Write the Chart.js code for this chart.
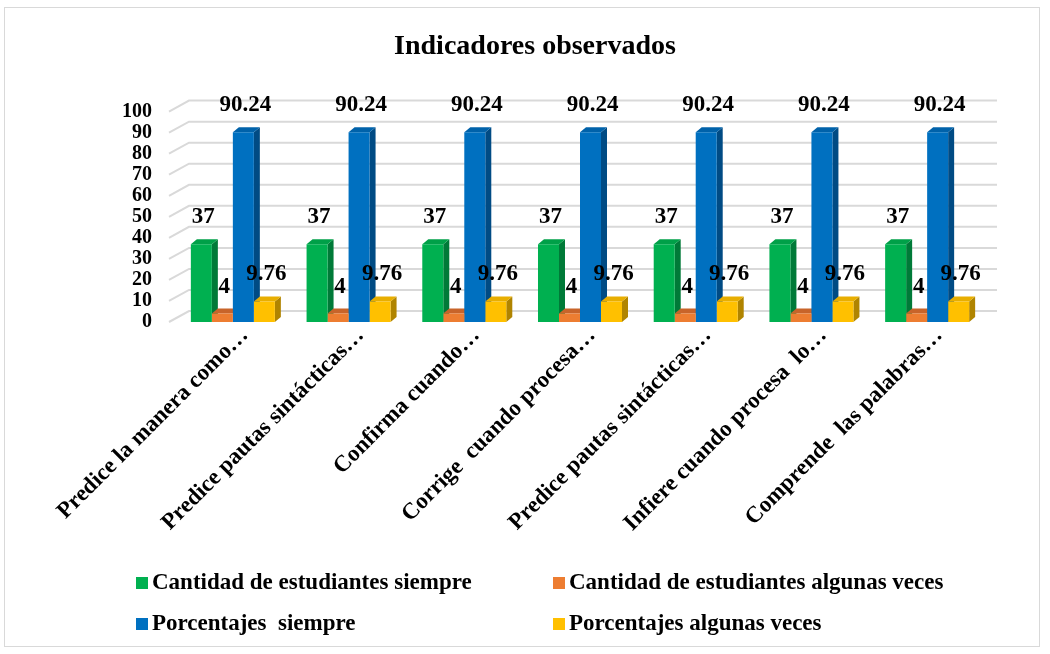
<!DOCTYPE html>
<html>
<head>
<meta charset="utf-8">
<script src="https://cdn.jsdelivr.net/npm/chart.js@4/dist/chart.umd.min.js"></script>
<style>
  body { margin: 0; background: #fff; }
  #wrap { position: relative; width: 1050px; height: 654px; }
  #frame { position: absolute; left: 4px; top: 7px; width: 1036px; height: 640px; border: 1.5px solid #d9d9d9; box-sizing: border-box; }
  canvas { position: absolute; left: 0; top: 0; }
</style>
</head>
<body>
<div id="wrap">
  <div id="frame"></div>
  <canvas id="chart" width="1050" height="654"></canvas>
</div>
<script>
var categories = [
  'Predice la manera como…',
  'Predice pautas sintácticas…',
  'Confirma cuando…',
  'Corrige  cuando procesa…',
  'Predice pautas sintácticas…',
  'Infiere cuando procesa  lo…',
  'Comprende  las palabras…'
];
var seriesNames = [
  'Cantidad de estudiantes siempre',
  'Cantidad de estudiantes algunas veces',
  'Porcentajes  siempre',
  'Porcentajes algunas veces'
];
var siempre = [37, 37, 37, 37, 37, 37, 37];
var algunasVeces = [4, 4, 4, 4, 4, 4, 4];
var pctSiempre = [90.24, 90.24, 90.24, 90.24, 90.24, 90.24, 90.24];
var pctAlgunas = [9.76, 9.76, 9.76, 9.76, 9.76, 9.76, 9.76];

var fronts = ['#00B050', '#ED7D31', '#0070C0', '#FFC000'];
var sides = ['#007A38', '#A9561F', '#004B84', '#B08400'];
var tops = ['#00A048', '#C8642A', '#0062AA', '#E8AE00'];

var SERIF = "'Liberation Serif', 'Times New Roman', serif";
var DX = 6, DY = -5;          // bar depth
var WALL_DX = 20, WALL_DY = -11;  // back wall offset

// fake 3d: sides/tops behind the fronts, gridlines on the back wall
var depth3d = {
  id: 'depth3d',
  beforeDatasetsDraw: function(chart) {
    var ctx = chart.ctx, area = chart.chartArea, y = chart.scales.y;
    ctx.save();
    ctx.strokeStyle = '#d9d9d9';
    ctx.lineWidth = 2;
    y.ticks.forEach(function(t) {
      var py = y.getPixelForValue(t.value);
      ctx.beginPath();
      ctx.moveTo(area.left - 6, py);
      ctx.lineTo(area.left - 6 + WALL_DX, py + WALL_DY);
      ctx.lineTo(area.right + 12, py + WALL_DY);
      ctx.stroke();
    });
    chart.data.datasets.forEach(function(ds, i) {
      chart.getDatasetMeta(i).data.forEach(function(bar) {
        var l = bar.x - bar.width / 2, r = bar.x + bar.width / 2;
        var t = bar.y, b = bar.base;
        ctx.fillStyle = sides[i];
        ctx.beginPath();
        ctx.moveTo(r, b); ctx.lineTo(r + DX, b + DY);
        ctx.lineTo(r + DX, t + DY); ctx.lineTo(r, t);
        ctx.closePath(); ctx.fill();
        ctx.fillStyle = tops[i];
        ctx.beginPath();
        ctx.moveTo(l, t); ctx.lineTo(l + DX, t + DY);
        ctx.lineTo(r + DX, t + DY); ctx.lineTo(r, t);
        ctx.closePath(); ctx.fill();
      });
    });
    ctx.restore();
  },
  afterDatasetsDraw: function(chart) {
    var ctx = chart.ctx;
    ctx.save();
    ctx.font = 'bold 23px ' + SERIF;
    ctx.fillStyle = '#000';
    ctx.textAlign = 'center';
    ctx.textBaseline = 'middle';
    chart.data.datasets.forEach(function(ds, i) {
      chart.getDatasetMeta(i).data.forEach(function(bar, j) {
        ctx.fillText(String(ds.data[j]), bar.x + 2, bar.y - 27);
      });
    });
    ctx.restore();
  },
  // two-column legend like the original
  afterDraw: function(chart) {
    var ctx = chart.ctx;
    var pos = [[136, 583], [553, 583], [136, 624], [553, 624]];
    ctx.save();
    ctx.font = 'bold 23px ' + SERIF;
    ctx.textBaseline = 'middle';
    ctx.textAlign = 'left';
    chart.data.datasets.forEach(function(ds, i) {
      var p = pos[i];
      ctx.fillStyle = ds.backgroundColor;
      ctx.fillRect(p[0], p[1] - 6, 12, 12);
      ctx.fillStyle = '#000';
      ctx.fillText(ds.label, p[0] + 16, p[1]);
    });
    ctx.restore();
  }
};

var values = [siempre, algunasVeces, pctSiempre, pctAlgunas];

new Chart(document.getElementById('chart').getContext('2d'), {
  type: 'bar',
  data: {
    labels: categories,
    datasets: values.map(function(v, i) {
      return { label: seriesNames[i], data: v, backgroundColor: fronts[i], borderWidth: 0 };
    })
  },
  plugins: [depth3d],
  options: {
    responsive: false,
    animation: false,
    categoryPercentage: 0.726,
    barPercentage: 1,
    layout: { padding: { left: 85, right: 65, top: 0, bottom: 100 } },
    plugins: {
      legend: { display: false },
      tooltip: { enabled: false },
      title: {
        display: true,
        text: 'Indicadores observados',
        color: '#000',
        font: { family: SERIF, size: 28, weight: 'bold', lineHeight: 1.2 },
        padding: { top: 30, bottom: 48 }
      }
    },
    scales: {
      x: {
        grid: { display: false, drawTicks: false },
        border: { display: false },
        afterFit: function(s) { s.height = 232; },
        ticks: {
          color: '#000',
          autoSkip: false,
          minRotation: 45,
          maxRotation: 45,
          labelOffset: 12,
          padding: 0,
          font: { family: SERIF, size: 23, weight: 'bold' }
        }
      },
      y: {
        min: 0,
        max: 100,
        grid: { display: false, drawTicks: false },
        border: { display: false },
        afterFit: function(s) { s.width = 90; },
        ticks: {
          stepSize: 10,
          autoSkip: false,
          color: '#000',
          padding: 23,
          font: { family: SERIF, size: 20, weight: 'bold' }
        }
      }
    }
  }
});
</script>
</body>
</html>
